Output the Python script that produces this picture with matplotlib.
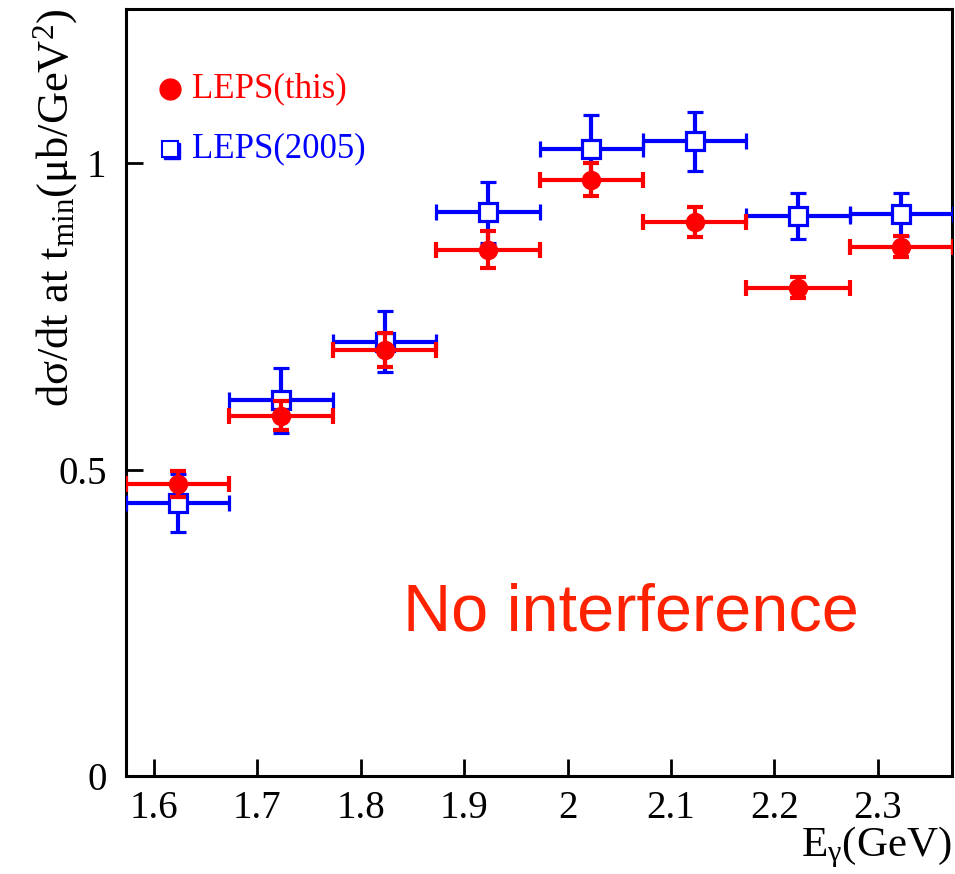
import matplotlib
matplotlib.use('Agg')
import matplotlib.pyplot as plt
import matplotlib.transforms as mtransforms

plt.rcParams['font.family'] = ['Liberation Serif', 'DejaVu Serif']
plt.rcParams['mathtext.fontset'] = 'custom'
plt.rcParams['mathtext.rm'] = 'Liberation Serif'
plt.rcParams['mathtext.it'] = 'Liberation Serif:italic'

# Daten
e_gamma = [1.623, 1.723, 1.823, 1.923, 2.023, 2.123, 2.223, 2.323]
e_halfwidth = [0.05] * 8

leps_this = [0.477, 0.588, 0.695, 0.859, 0.973, 0.904, 0.797, 0.864]
leps_this_err = [0.021, 0.024, 0.028, 0.030, 0.027, 0.024, 0.017, 0.017]

leps_2005 = [0.446, 0.613, 0.709, 0.920, 1.023, 1.036, 0.914, 0.917]
leps_2005_err = [0.047, 0.053, 0.050, 0.050, 0.055, 0.048, 0.037, 0.035]

xticks = [1.6, 1.7, 1.8, 1.9, 2.0, 2.1, 2.2, 2.3]
xticklabels = ['1.6', '1.7', '1.8', '1.9', '2', '2.1', '2.2', '2.3']
yticks = [0, 0.5, 1]
yticklabels = ['0', '0.5', '1']

fig = plt.figure(figsize=(9.55, 8.74), dpi=100)
ax = fig.add_axes([0.132, 0.112, 0.865, 0.878])

# LEPS(2005): offene Quadrate
ax.errorbar(e_gamma, leps_2005, yerr=leps_2005_err, xerr=e_halfwidth,
            fmt='s', color='#0000ff', mfc='white', mec='#0000ff', mew=2.3,
            ms=13, elinewidth=3, capsize=6, capthick=3, zorder=3)

# LEPS(this): gefuellte Kreise
ax.errorbar(e_gamma, leps_this, yerr=leps_this_err, xerr=e_halfwidth,
            fmt='o', color='#ff0000', ms=13, elinewidth=3, capsize=6,
            capthick=3, zorder=4)

ax.set_xlim(1.573, 2.372)
ax.set_ylim(0, 1.252)
ax.set_xticks(xticks)
ax.set_xticklabels(xticklabels)
ax.set_yticks(yticks)
ax.set_yticklabels(yticklabels)
ax.tick_params(direction='in', length=12, width=2, labelsize=28, pad=10)
ax.tick_params(axis='y', pad=14)
ax.minorticks_off()
for sp in ax.spines.values():
    sp.set_linewidth(2.2)

# Achsenbeschriftungen im ROOT-Stil (am Ende der Achse)
fig.text(0.997, 0.005, r'E$_{\mathrm{\gamma}}$(GeV)', ha='right', va='bottom',
         fontsize=31)
fig.text(0.058, 0.991, r'd$\mathrm{\sigma}$/dt at t$_{\mathrm{min}}$($\mathrm{\mu}$b/GeV$^{2}$)',
         rotation=90, ha='center', va='top', fontsize=32)

# Legende von Hand
tr = ax.transAxes
shadow = mtransforms.offset_copy(tr, fig=fig, x=1.5, y=-1.5, units='points')
ax.plot([0.053], [0.896], 'o', color='#ff0000', ms=15, transform=tr, clip_on=False)
ax.text(0.080, 0.896, 'LEPS(this)', color='#ff0000', fontsize=25,
        va='center', ha='left', transform=tr)
ax.plot([0.053], [0.817], 's', color='#0000ff', ms=11, transform=shadow, clip_on=False)
ax.plot([0.053], [0.817], 's', mfc='white', mec='#0000ff', mew=1.5, ms=11,
        transform=tr, clip_on=False)
ax.text(0.080, 0.817, 'LEPS(2005)', color='#0000ff', fontsize=25,
        va='center', ha='left', transform=tr)

ax.text(0.335, 0.19, 'No interference', color='#ff2200', fontsize=48,
        family='Liberation Sans', ha='left', va='baseline', transform=tr)

fig.savefig('out.png', dpi=100)
